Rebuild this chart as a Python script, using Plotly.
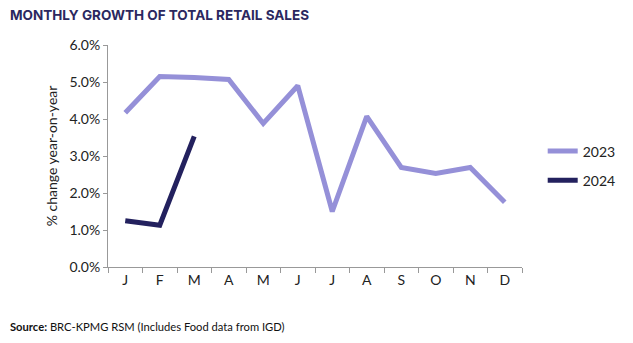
import plotly.graph_objects as go

months = ["J", "F", "M", "A", "M ", "J ", "J  ", "A ", "S", "O", "N", "D"]
tick_labels = ["J", "F", "M", "A", "M", "J", "J", "A", "S", "O", "N", "D"]
growth_2023 = [4.17, 5.15, 5.12, 5.07, 3.88, 4.9, 1.5, 4.07, 2.69, 2.53, 2.69, 1.75]
growth_2024 = [1.25, 1.13, 3.53]

fig = go.Figure()
fig.add_trace(go.Scatter(x=months, y=growth_2023, mode="lines", name="2023", legendgroup="a",
                         line=dict(color="#9590D8", width=5)))
fig.add_trace(go.Scatter(x=months[:3], y=growth_2024, mode="lines", name="2024", legendgroup="b",
                         line=dict(color="#23215E", width=5)))

fig.update_layout(
    width=633, height=343,
    margin=dict(l=108, r=111, t=45, b=76),
    paper_bgcolor="white", plot_bgcolor="white",
    font=dict(family="Lato", size=14, color="#222"),
    showlegend=True,
    legend=dict(x=1.05, y=0.455, xanchor="left", yanchor="middle",
                font=dict(size=14, color="#222"), tracegroupgap=8,
                itemwidth=30, bgcolor="rgba(0,0,0,0)"),
    annotations=[
        dict(text="<b>MONTHLY GROWTH OF TOTAL RETAIL SALES</b>", x=8, y=5,
             xref="paper", yref="paper", showarrow=False, xanchor="left", yanchor="top",
             font=dict(family="Inter", size=13.5, color="#2B2860")),
        dict(text="<b>Source:</b> BRC-KPMG RSM (Includes Food data from IGD)", x=8, y=326,
             xref="paper", yref="paper", showarrow=False, xanchor="left", yanchor="middle",
             font=dict(family="Lato", size=11.2, color="#111")),
    ],
)
pw = 633 - 108 - 111
ph = 343 - 45 - 76
for a in fig.layout.annotations:
    a.x = (a.x - 108) / pw
    a.y = (343 - 76 - a.y) / ph

fig.update_xaxes(
    tickmode="array", tickvals=months, ticktext=tick_labels,
    tickson="boundaries", ticks="outside", ticklen=5, tickcolor="#999",
    showline=True, linecolor="#999", linewidth=1, showgrid=False,
    tickfont=dict(size=14, color="#222"), range=[-0.5, 11.5],
)
fig.update_yaxes(
    range=[0, 6], dtick=1, tickformat=".1f", ticksuffix="%",
    ticks="outside", ticklen=4, tickcolor="#999",
    showline=True, linecolor="#999", linewidth=1, showgrid=False, zeroline=False,
    tickfont=dict(size=14, color="#222"),
    title=dict(text="% change year-on-year", font=dict(size=14, color="#222"), standoff=8),
)

fig.write_html("out.html")
